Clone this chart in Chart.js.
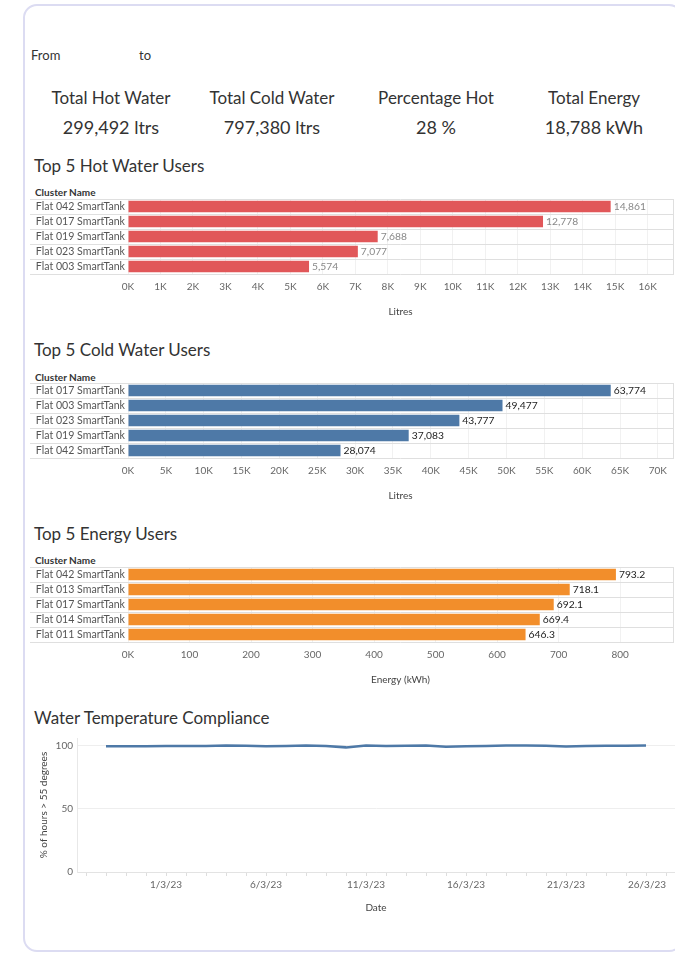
<!DOCTYPE html>
<html>
<head>
<meta charset="utf-8">
<script src="https://cdn.jsdelivr.net/npm/chart.js@4.4.0/dist/chart.umd.min.js"></script>
<style>
body { margin: 0; width: 675px; height: 954px; overflow: hidden; background: #fff; font-family: Lato, sans-serif; color: #333; position: relative; }
.card { position: absolute; left: 23px; top: 4px; width: 660px; height: 948px; border: 2px solid #dcdcf2; border-radius: 14px; box-sizing: border-box; }
.t { position: absolute; white-space: nowrap; line-height: 1; transform: translateY(-50%); }
.c { transform: translate(-50%, -50%); }
.kpi { font-size: 17px; }
.val { font-size: 18px; }
.head { font-size: 17px; left: 34px; }
.cl { font-size: 10px; font-weight: bold; left: 35px; color: #333; }
canvas { position: absolute; left: 30px; }
</style>
</head>
<body>
<div class="card"></div>

<div class="t" style="left:31px;top:55px;font-size:13px">From</div>
<div class="t" style="left:139px;top:55px;font-size:13px">to</div>

<div class="t c kpi" style="left:111px;top:97px">Total Hot Water</div>
<div class="t c kpi" style="left:272px;top:97px">Total Cold Water</div>
<div class="t c kpi" style="left:436px;top:97px">Percentage Hot</div>
<div class="t c kpi" style="left:594px;top:97px">Total Energy</div>
<div class="t c val" style="left:111px;top:127px">299,492 ltrs</div>
<div class="t c val" style="left:272px;top:127px">797,380 ltrs</div>
<div class="t c val" style="left:436px;top:127px">28 %</div>
<div class="t c val" style="left:594px;top:127px">18,788 kWh</div>

<div class="t head" style="top:165px">Top 5 Hot Water Users</div>
<div class="t cl" style="top:192px">Cluster Name</div>
<canvas id="hot" width="645" height="123" style="top:197px"></canvas>

<div class="t head" style="top:349px">Top 5 Cold Water Users</div>
<div class="t cl" style="top:377px">Cluster Name</div>
<canvas id="cold" width="645" height="123" style="top:381px"></canvas>

<div class="t head" style="top:533px">Top 5 Energy Users</div>
<div class="t cl" style="top:560px">Cluster Name</div>
<canvas id="energy" width="645" height="123" style="top:565px"></canvas>

<div class="t head" style="top:717px">Water Temperature Compliance</div>
<canvas id="temp" width="645" height="190" style="top:728px"></canvas>

<script>
var hotNames = ['Flat 042 SmartTank', 'Flat 017 SmartTank', 'Flat 019 SmartTank', 'Flat 023 SmartTank', 'Flat 003 SmartTank'];
var hotLitres = [14861, 12778, 7688, 7077, 5574];
var hotTicks = [0, 1000, 2000, 3000, 4000, 5000, 6000, 7000, 8000, 9000, 10000, 11000, 12000, 13000, 14000, 15000, 16000];

var coldNames = ['Flat 017 SmartTank', 'Flat 003 SmartTank', 'Flat 023 SmartTank', 'Flat 019 SmartTank', 'Flat 042 SmartTank'];
var coldLitres = [63774, 49477, 43777, 37083, 28074];
var coldTicks = [0, 5000, 10000, 15000, 20000, 25000, 30000, 35000, 40000, 45000, 50000, 55000, 60000, 65000, 70000];

var energyNames = ['Flat 042 SmartTank', 'Flat 013 SmartTank', 'Flat 017 SmartTank', 'Flat 014 SmartTank', 'Flat 011 SmartTank'];
var energyKwh = [793.2, 718.1, 692.1, 669.4, 646.3];
var energyTicks = [0, 100, 200, 300, 400, 500, 600, 700, 800];

var days = ['26/2/23', '27/2/23', '28/2/23', '1/3/23', '2/3/23', '3/3/23', '4/3/23', '5/3/23', '6/3/23', '7/3/23',
            '8/3/23', '9/3/23', '10/3/23', '11/3/23', '12/3/23', '13/3/23', '14/3/23', '15/3/23', '16/3/23', '17/3/23',
            '18/3/23', '19/3/23', '20/3/23', '21/3/23', '22/3/23', '23/3/23', '24/3/23', '25/3/23'];
var compliance = [99.3, 99.2, 99.3, 99.4, 99.5, 99.5, 99.8, 99.6, 99.3, 99.5,
                  99.9, 99.4, 98.4, 99.8, 99.5, 99.6, 99.9, 98.9, 99.3, 99.5,
                  99.9, 99.8, 99.7, 99.1, 99.4, 99.6, 99.6, 99.8];
var dateTicks = ['1/3/23', '6/3/23', '11/3/23', '16/3/23', '21/3/23', '26/3/23'];
var percentTicks = [0, 50, 100];

Chart.defaults.font.family = 'Lato, sans-serif';
Chart.defaults.font.size = 10;
Chart.defaults.animation = false;

// value text at the end of each bar
var barValues = {
    id: 'barValues',
    afterDatasetsDraw(chart, args, opts) {
        var ctx = chart.ctx;
        var values = chart.data.datasets[0].data;
        ctx.save();
        ctx.font = '10.3px Lato, sans-serif';
        ctx.fillStyle = opts.color;
        ctx.textBaseline = 'middle';
        chart.getDatasetMeta(0).data.forEach(function (bar, i) {
            ctx.fillText(opts.format(values[i]), bar.x + 3, bar.y);
        });
        ctx.restore();
    }
};

function kLabel(v) { return v / 1000 + 'K'; }

function topFiveChart(id, names, values, color, max, tickValues, tickLabel, valueLabel, valueColor, axisTitle) {
    new Chart(document.getElementById(id), {
        type: 'bar',
        data: {
            labels: names,
            datasets: [{
                data: values,
                backgroundColor: color,
                barPercentage: 0.78,
                categoryPercentage: 1
            }]
        },
        options: {
            indexAxis: 'y',
            responsive: false,
            layout: { padding: { top: 2, right: 2 } },
            plugins: {
                legend: { display: false },
                tooltip: { enabled: false },
                barValues: { format: valueLabel, color: valueColor }
            },
            scales: {
                x: {
                    min: 0,
                    max: max,
                    afterBuildTicks: function (s) { s.ticks = tickValues.map(function (v) { return { value: v }; }); },
                    ticks: { autoSkip: false, maxRotation: 0, padding: 7, color: '#666', callback: tickLabel },
                    grid: { color: '#f1f1f1', drawTicks: false },
                    border: { display: false },
                    title: { display: true, text: axisTitle, color: '#444', padding: { top: 6, bottom: 2 } }
                },
                y: {
                    ticks: { autoSkip: false, crossAlign: 'near', padding: -95, color: '#555', font: { size: 10.6 } },
                    grid: { color: '#dfdfdf', tickColor: '#dfdfdf', tickLength: 98 },
                    border: { display: false },
                    afterFit: function (s) { s.width = 98; }
                },
                edge: {
                    position: 'right',
                    ticks: { display: false },
                    grid: { display: false },
                    border: { color: '#dfdfdf' },
                    afterFit: function (s) { s.width = 0; }
                }
            }
        },
        plugins: [barValues]
    });
}

topFiveChart('hot', hotNames, hotLitres, '#e15759', 16780, hotTicks, kLabel,
    function (v) { return v.toLocaleString('en-US'); }, '#888', 'Litres');
topFiveChart('cold', coldNames, coldLitres, '#4e79a7', 72000, coldTicks, kLabel,
    function (v) { return v.toLocaleString('en-US'); }, '#222', 'Litres');
topFiveChart('energy', energyNames, energyKwh, '#f28e2b', 886, energyTicks,
    function (v) { return v == 0 ? '0K' : v; },
    function (v) { return v.toFixed(1); }, '#222', 'Energy (kWh)');

new Chart(document.getElementById('temp'), {
    type: 'line',
    data: {
        datasets: [{
            data: compliance.map(function (v, i) { return { x: i, y: v }; }),
            borderColor: '#4e79a7',
            borderWidth: 2.5,
            pointRadius: 0,
            tension: 0
        }]
    },
    options: {
        responsive: false,
        layout: { padding: { top: 7 } },
        plugins: { legend: { display: false }, tooltip: { enabled: false } },
        scales: {
            x: {
                type: 'linear',
                min: -1.45,
                max: 28.45,
                ticks: {
                    stepSize: 1, includeBounds: false, autoSkip: false, maxRotation: 0, minRotation: 0,
                    align: 'inner', padding: 3, color: '#666',
                    callback: function (v) {
                        var k = (v - days.indexOf('1/3/23')) / 5;
                        return (Number.isInteger(k) && k >= 0) ? dateTicks[k] : '';
                    }
                },
                grid: { drawOnChartArea: false, tickLength: 4, color: '#dddddd' },
                border: { color: '#e3e3e3' },
                title: { display: true, text: 'Date', color: '#444', padding: { top: 8, bottom: 4 } }
            },
            y: {
                min: 0,
                max: 105.8,
                afterBuildTicks: function (s) { s.ticks = percentTicks.map(function (v) { return { value: v }; }); },
                ticks: { padding: 4, color: '#666' },
                grid: { color: '#eeeeee', drawTicks: false },
                border: { color: '#e8e8e8' },
                title: { display: true, text: '% of hours > 55 degrees', color: '#444', padding: { top: 8, bottom: 0 } },
                afterFit: function (s) { s.width = 47; }
            }
        }
    }
});
</script>
</body>
</html>
